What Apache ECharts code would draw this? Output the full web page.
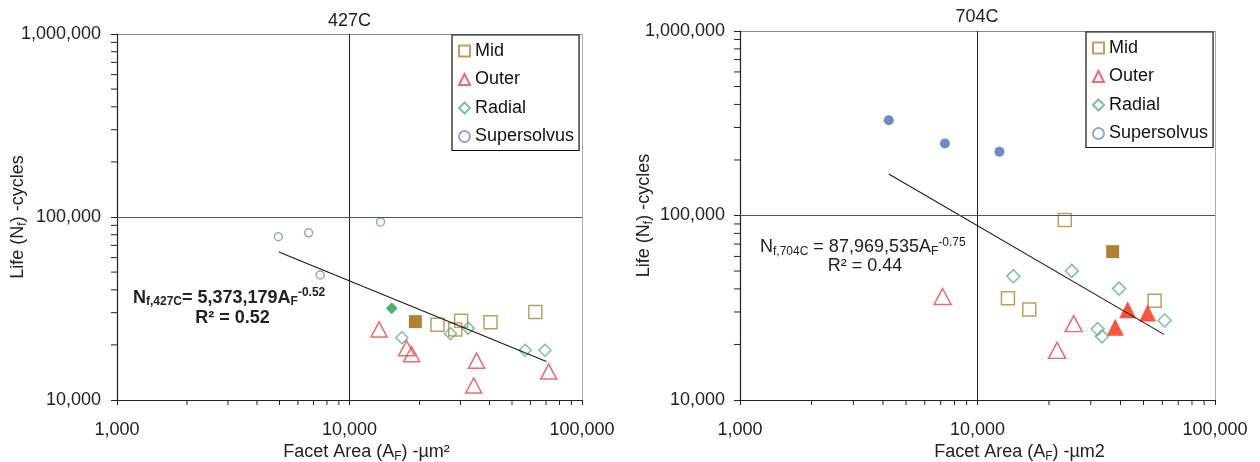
<!DOCTYPE html>
<html>
<head>
<meta charset="utf-8">
<script src="https://cdn.jsdelivr.net/npm/echarts@6/dist/echarts.min.js"></script>
<style>
  html, body { margin: 0; padding: 0; background: #fff; }
  #chart { width: 1260px; height: 462px; }
</style>
</head>
<body>
<div id="chart"></div>
<script>
// Facet area (µm²) vs. fatigue life (cycles), two test temperatures.
const FONT = '"Liberation Sans", Arial, sans-serif';

// ---- 427C ----
const mid427 = [[23900, 25800], [28500, 24300], [30200, 27100], [40400, 26600], [63000, 30300]];
const midFilled427 = [[19200, 26800]];
const outer427 = [[13400, 24300], [17600, 19200], [18500, 17800], [35200, 16400], [34200, 12000], [71900, 14300]];
const radial427 = [[16800, 21900], [27200, 23000], [32400, 24700], [57000, 18700], [69300, 18700]];
const radialFilled427 = [[15200, 31700]];
const super427 = [[4940, 78000], [6670, 82000], [7480, 48200], [13600, 94000]];
const fit427 = [5373179, -0.52];      // N = coef * A^exp
const r2_427 = 0.52;
const fitRange427 = [4970, 70300];

// ---- 704C ----
const mid704 = [[23300, 94600], [13430, 35650], [16520, 30970], [55700, 34500]];
const midFilled704 = [[37070, 63700]];
const outer704 = [[7130, 36400], [25410, 25940], [21630, 18580]];
const outerFilled704 = [[38020, 24770], [42860, 30830], [52080, 29600]];
const radial704 = [[14160, 46900], [24950, 50100], [39440, 40150], [32060, 24270], [33430, 22130], [61330, 26980]];
const superFilled704 = [[4230, 328000], [7290, 245600], [12370, 221400]];
const fit704 = [87969535, -0.75];
const r2_704 = 0.44;
const fitRange704 = [4230, 60950];

// Axis ranges, reference lines and minor tick positions
const xRange = [1000, 100000];
const yRange = [10000, 1000000];
const xRefLine = 10000;
const yRefLine = 100000;
const xMinorTicks = [2000, 3000, 4000, 5000, 6000, 7000, 8000, 9000,
                     20000, 30000, 40000, 50000, 60000, 70000, 80000, 90000];
const yMinorTicks = [20000, 30000, 40000, 50000, 60000, 70000, 80000, 90000,
                     200000, 300000, 400000, 500000, 600000, 700000, 800000, 900000];
const legendNames = ['Mid', 'Outer', 'Radial', 'Supersolvus'];

const C = {
  mid: '#A8893A', midFill: '#9A6400',
  outer: '#E4474A', outerFill: '#FA2A0A',
  radial: '#5FAE8F', radialFill: '#1CA34C',
  sup: '#7890BE', supFill: '#4571B5'
};

function fmt(v) { return String(Math.round(v)).replace(/\B(?=(\d{3})+(?!\d))/g, ','); }
function openStyle(c) { return { color: 'rgba(255,255,255,0)', borderColor: c, borderWidth: 1.5 }; }
function filled(pts, c, size) {
  return pts.map(p => ({ value: p, symbolSize: size, itemStyle: { color: c, borderColor: c, borderWidth: 0 } }));
}
function fitLine(fit, range) { return range.map(a => [a, fit[0] * Math.pow(a, fit[1])]); }

// rich styles: a = normal text, s = subscript (pushed down inside a taller line box)
const subRich = {
  a: { fontSize: 18, fontFamily: FONT, color: '#222', height: 18, lineHeight: 18, verticalAlign: 'top' },
  s: { fontSize: 12, fontFamily: FONT, color: '#222', height: 28, lineHeight: 28, verticalAlign: 'top' }
};

function xAxisCfg(i, name, shift) {
  return {
    type: 'log', logBase: 10, gridIndex: i, min: xRange[0], max: xRange[1],
    axisLine: { show: true, onZero: false, lineStyle: { color: '#222', width: 1.2 } },
    axisTick: { show: true, length: 5, lineStyle: { color: '#222' } },
    axisLabel: { formatter: fmt, fontFamily: FONT, fontSize: 18, color: '#222', margin: 21 },
    splitLine: { show: true, lineStyle: { color: '#aaa', width: 1 } },
    name: name, nameLocation: 'middle', nameGap: 43, nameMoveOverlap: false,
    nameTextStyle: { rich: subRich, padding: [0, 0, 0, shift * 2] }
  };
}
function yAxisCfg(i, gap, margin) {
  return {
    type: 'log', logBase: 10, gridIndex: i, min: yRange[0], max: yRange[1],
    axisLine: { show: true, onZero: false, lineStyle: { color: '#222', width: 1.2 } },
    axisTick: { show: true, length: 6, lineStyle: { color: '#222' } },
    axisLabel: { formatter: fmt, fontFamily: FONT, fontSize: 18, color: '#222', margin: margin },
    splitLine: { show: true, lineStyle: { color: '#8a8a8a', width: 1 } },
    name: '{a|Life (N}{s|f}{a|) -cycles}', nameLocation: 'middle', nameGap: gap, nameRotate: 90,
    nameMoveOverlap: false,
    nameTextStyle: { rich: subRich }
  };
}

function minorSeries(i) {
  const xs = xMinorTicks.map(v => [v, yRange[0]]);
  const ys = yMinorTicks.map(v => [xRange[0], v]);
  return [
    {
      type: 'custom', xAxisIndex: i, yAxisIndex: i, data: xs, silent: true, clip: false,
      renderItem: (p, api) => {
        const c = api.coord([api.value(0), api.value(1)]);
        return { type: 'line', shape: { x1: c[0], y1: c[1], x2: c[0], y2: c[1] + 5 }, style: { stroke: '#222', lineWidth: 1 } };
      }
    },
    {
      type: 'custom', xAxisIndex: i, yAxisIndex: i, data: ys, silent: true, clip: false,
      renderItem: (p, api) => {
        const c = api.coord([api.value(0), api.value(1)]);
        return { type: 'line', shape: { x1: c[0] - 6, y1: c[1], x2: c[0], y2: c[1] }, style: { stroke: '#222', lineWidth: 1 } };
      }
    }
  ];
}

function scatter(i, name, symbol, size, style, data) {
  return {
    type: 'scatter', name: name, xAxisIndex: i, yAxisIndex: i, symbol: symbol, symbolSize: size,
    itemStyle: style, data: data, z: 3, emphasis: { disabled: true }
  };
}
function trend(i, fit, range) {
  return {
    type: 'line', xAxisIndex: i, yAxisIndex: i, data: fitLine(fit, range), symbol: 'none',
    lineStyle: { color: '#1a1a1a', width: 1.1 }, z: 4, silent: true,
    markLine: {
      silent: true, symbol: 'none', label: { show: false }, animation: false,
      data: [
        { xAxis: xRefLine, lineStyle: { color: '#222', width: 1, type: 'solid' } },
        { yAxis: yRefLine, lineStyle: { color: '#555', width: 1.2, type: 'solid' } }
      ]
    }
  };
}

function legendCfg(left, top) {
  return {
    data: legendNames, orient: 'vertical', left: left, top: top,
    borderColor: '#111', borderWidth: 1.2, backgroundColor: '#fff',
    padding: [7, 5, 5, 6], itemGap: 10.5, itemWidth: 11, itemHeight: 11,
    selectedMode: false,
    textStyle: { fontFamily: FONT, fontSize: 18, color: '#111', lineHeight: 18 }
  };
}

function eqRich(bold) {
  const w = bold ? 'bold' : 'normal';
  return {
    n: { fontSize: 18, fontWeight: w, fontFamily: FONT, fill: '#222', height: 18, lineHeight: 18, verticalAlign: 'top' },
    s: { fontSize: 12, fontWeight: w, fontFamily: FONT, fill: '#222', height: 26, lineHeight: 26, verticalAlign: 'top' },
    p: { fontSize: 12, fontWeight: w, fontFamily: FONT, fill: '#222', height: 8, lineHeight: 8, verticalAlign: 'top' }
  };
}
function eqText(tag, fit, sep) {
  return '{n|N}{s|f,' + tag + '}{n|' + sep + fmt(fit[0]) + 'A}{s|F}{p|' + fit[1].toFixed(2) + '}';
}

const option = {
  animation: false,
  backgroundColor: '#fff',
  grid: [
    { left: 117, top: 34, width: 465, height: 366, containLabel: false, outerBoundsMode: 'none' },
    { left: 740, top: 31, width: 475, height: 369, containLabel: false, outerBoundsMode: 'none' }
  ],
  xAxis: [
    xAxisCfg(0, '{a|Facet Area (A}{s|F}{a|) -µm²}', 17),
    xAxisCfg(1, '{a|Facet Area (A}{s|F}{a|) -µm2}', 42)
  ],
  yAxis: [yAxisCfg(0, 80, 16), yAxisCfg(1, 77, 15)],
  legend: [legendCfg(452, 35), legendCfg(1086, 32)],
  series: [
    ...minorSeries(0),
    scatter(0, 'Mid', 'rect', 13, openStyle(C.mid), mid427.concat(filled(midFilled427, C.midFill, 13))),
    scatter(0, 'Outer', 'triangle', [16, 15], openStyle(C.outer), outer427),
    scatter(0, 'Radial', 'diamond', [12, 12], openStyle(C.radial), radial427.concat(filled(radialFilled427, C.radialFill, [12, 12]))),
    scatter(0, 'Supersolvus', 'circle', 8, openStyle(C.sup), super427),
    trend(0, fit427, fitRange427),

    ...minorSeries(1),
    scatter(1, 'Mid', 'rect', 13, openStyle(C.mid), mid704.concat(filled(midFilled704, C.midFill, 13))),
    scatter(1, 'Outer', 'triangle', [17, 16], openStyle(C.outer), outer704.concat(filled(outerFilled704, C.outerFill, [17, 17]))),
    scatter(1, 'Radial', 'diamond', [13, 13], openStyle(C.radial), radial704),
    scatter(1, 'Supersolvus', 'circle', 10, openStyle(C.sup), filled(superFilled704, C.supFill, 10)),
    trend(1, fit704, fitRange704)
  ],
  graphic: [
    { type: 'text', x: 349.5, y: 21, style: { text: '427C', font: '18px ' + FONT, fill: '#222', align: 'center', verticalAlign: 'middle' } },
    { type: 'text', x: 977, y: 17.5, style: { text: '704C', font: '18px ' + FONT, fill: '#222', align: 'center', verticalAlign: 'middle' } },
    { type: 'text', x: 133, y: 289, style: { text: eqText('427C', fit427, '= '), rich: eqRich(true), verticalAlign: 'top' } },
    { type: 'text', x: 232.5, y: 318, style: { text: 'R² = ' + r2_427.toFixed(2), font: 'bold 18px ' + FONT, fill: '#222', align: 'center', verticalAlign: 'middle' } },
    { type: 'text', x: 760, y: 238.5, style: { text: eqText('704C', fit704, ' = '), rich: eqRich(false), verticalAlign: 'top' } },
    { type: 'text', x: 865, y: 266.5, style: { text: 'R² = ' + r2_704.toFixed(2), font: '18px ' + FONT, fill: '#222', align: 'center', verticalAlign: 'middle' } }
  ]
};

const chart = echarts.init(document.getElementById('chart'), null, { renderer: 'canvas' });
chart.setOption(option);
</script>
</body>
</html>
